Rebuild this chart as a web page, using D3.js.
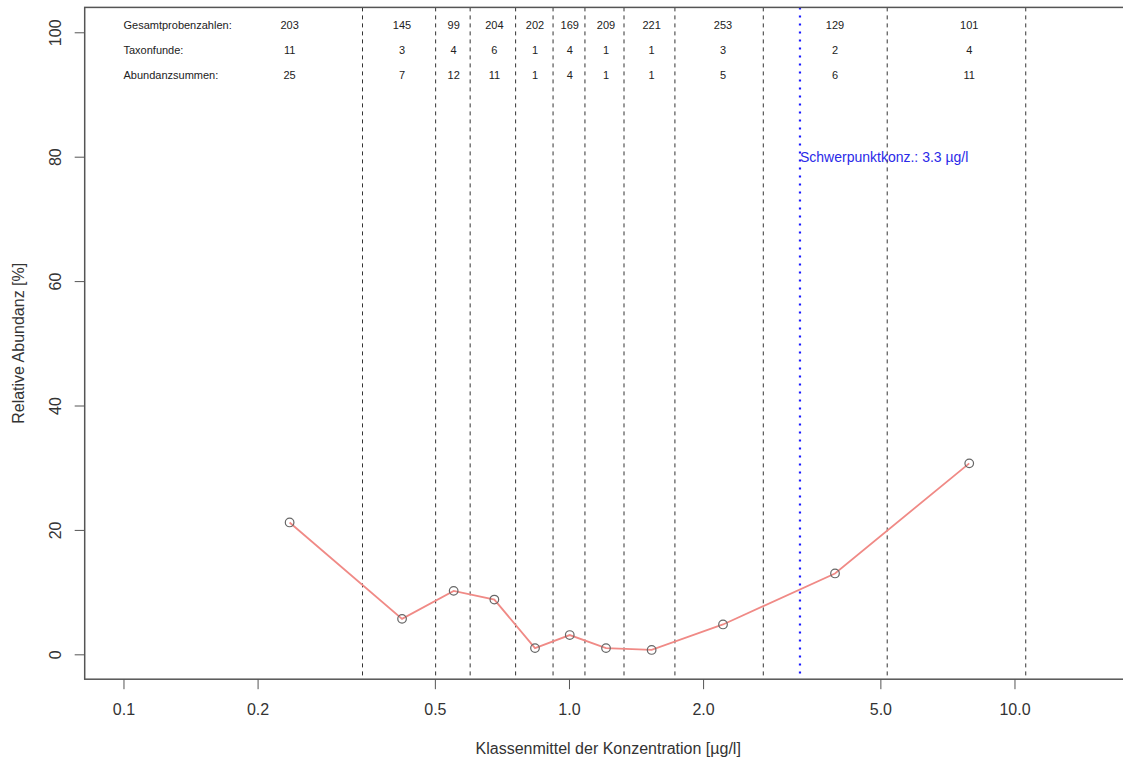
<!DOCTYPE html>
<html>
<head>
<meta charset="utf-8">
<script src="https://cdn.jsdelivr.net/npm/d3@7/dist/d3.min.js"></script>
<style>
  html, body { margin: 0; padding: 0; background: #fff; }
  svg { display: block; font-family: "Liberation Sans", Arial, sans-serif; }
</style>
</head>
<body>
<svg id="chart" width="1123" height="763"></svg>
<script>
// ---- data ----
const classMeans    = [0.236, 0.422, 0.551, 0.680, 0.839, 1.004, 1.211, 1.533, 2.217, 3.955, 7.915];
const relAbundance  = [21.2, 5.7, 10.2, 8.8, 1.0, 3.1, 1.0, 0.7, 4.8, 13.0, 30.7];
const classBounds   = [0.344, 0.502, 0.600, 0.759, 0.921, 1.086, 1.329, 1.729, 2.730, 5.18, 10.6];
const sampleCounts  = [203, 145, 99, 204, 202, 169, 209, 221, 253, 129, 101];
const taxonFinds    = [11, 3, 4, 6, 1, 4, 1, 1, 3, 2, 4];
const abundanceSums = [25, 7, 12, 11, 1, 4, 1, 1, 5, 6, 11];
const rowLabels     = ["Gesamtprobenzahlen:", "Taxonfunde:", "Abundanzsummen:"];
const centroid      = 3.3;
const centroidLabel = "Schwerpunktkonz.: 3.3 µg/l";
const xTicks        = [0.1, 0.2, 0.5, 1, 2, 5, 10];
const xTickLabels   = ["0.1", "0.2", "0.5", "1.0", "2.0", "5.0", "10.0"];
const yTicks        = [0, 20, 40, 60, 80, 100];
const xTitle        = "Klassenmittel der Konzentration [µg/l]";
const yTitle        = "Relative Abundanz [%]";

// ---- layout ----
(function () {
const svg = d3.select("#chart");
const pL = 84.7, pR = 1131.7, pT = 7.4, pB = 679.2;

// R-style 4% padding on log axis for xlim 0.1..15
const lx0 = Math.log10(0.1), lx1 = Math.log10(15), pad = 0.04 * (lx1 - lx0);
const x = d3.scaleLog().domain([Math.pow(10, lx0 - pad), Math.pow(10, lx1 + pad)]).range([pL, pR]);
const y = d3.scaleLinear().domain([-4, 104]).range([pB, pT]);

// class boundaries (dashed)
svg.append("g").selectAll("line").data(classBounds).join("line")
  .attr("x1", d => x(d)).attr("x2", d => x(d))
  .attr("y1", pT).attr("y2", pB)
  .attr("stroke", "#333").attr("stroke-width", 1).attr("stroke-dasharray", "4,4");

// centroid (blue dotted)
svg.append("line")
  .attr("x1", x(centroid)).attr("x2", x(centroid))
  .attr("y1", pT).attr("y2", pB)
  .attr("stroke", "#1a1aff").attr("stroke-width", 2.2).attr("stroke-dasharray", "2,6");
svg.append("text")
  .attr("x", x(centroid)).attr("y", y(80))
  .attr("dy", "0.35em")
  .attr("font-size", 14).attr("fill", "#2a2ae8")
  .text(centroidLabel);

// line + points
const pts = classMeans.map((c, i) => [c, relAbundance[i]]);
svg.append("path")
  .datum(pts)
  .attr("d", d3.line().x(d => x(d[0])).y(d => y(d[1])))
  .attr("fill", "none").attr("stroke", "#f08a86").attr("stroke-width", 1.8);
svg.append("g").selectAll("circle").data(pts).join("circle")
  .attr("cx", d => x(d[0])).attr("cy", d => y(d[1])).attr("r", 4.3)
  .attr("fill", "none").attr("stroke", "#666").attr("stroke-width", 1.2);

// header table
const rows = [sampleCounts, taxonFinds, abundanceSums];
const rowY = [25, 50, 75];
rows.forEach((vals, r) => {
  svg.append("text")
    .attr("x", x(0.1)).attr("y", rowY[r]).attr("dy", "0.35em")
    .attr("font-size", 11).attr("fill", "#222")
    .text(rowLabels[r]);
  svg.append("g").selectAll("text").data(vals).join("text")
    .attr("x", (d, i) => x(classMeans[i])).attr("y", rowY[r]).attr("dy", "0.35em")
    .attr("text-anchor", "middle").attr("font-size", 11).attr("fill", "#222")
    .text(d => d);
});

// box (right side falls outside the picture)
svg.append("rect")
  .attr("x", pL).attr("y", pT).attr("width", pR - pL).attr("height", pB - pT)
  .attr("fill", "none").attr("stroke", "#555").attr("stroke-width", 1.5);

// x axis
const xAxis = d3.axisBottom(x).tickValues(xTicks)
  .tickFormat((d, i) => xTickLabels[i]).tickSize(10).tickPadding(14);
const gx = svg.append("g").attr("transform", `translate(0,${pB})`).call(xAxis);
gx.select(".domain").remove();
gx.selectAll(".tick line").attr("stroke", "#555");
gx.selectAll("text").attr("font-size", 16).attr("fill", "#333").attr("font-family", "Liberation Sans, Arial, sans-serif");

// y axis
const yAxis = d3.axisLeft(y).tickValues(yTicks).tickSize(10).tickPadding(14);
const gy = svg.append("g").attr("transform", `translate(${pL},0)`).call(yAxis);
gy.select(".domain").remove();
gy.selectAll(".tick line").attr("stroke", "#555");
gy.selectAll("text")
  .attr("font-size", 16).attr("fill", "#333").attr("font-family", "Liberation Sans, Arial, sans-serif")
  .attr("text-anchor", "middle").attr("x", null)
  .attr("transform", "translate(-29,0) rotate(-90)")
  .attr("dy", "0.35em");

// titles
svg.append("text")
  .attr("x", (pL + pR) / 2).attr("y", 748).attr("dy", "0.35em")
  .attr("text-anchor", "middle").attr("font-size", 16).attr("fill", "#333")
  .text(xTitle);
svg.append("text")
  .attr("transform", `translate(18,${(pT + pB) / 2}) rotate(-90)`)
  .attr("dy", "0.35em")
  .attr("text-anchor", "middle").attr("font-size", 16).attr("fill", "#333")
  .text(yTitle);
})();
</script>
</body>
</html>
